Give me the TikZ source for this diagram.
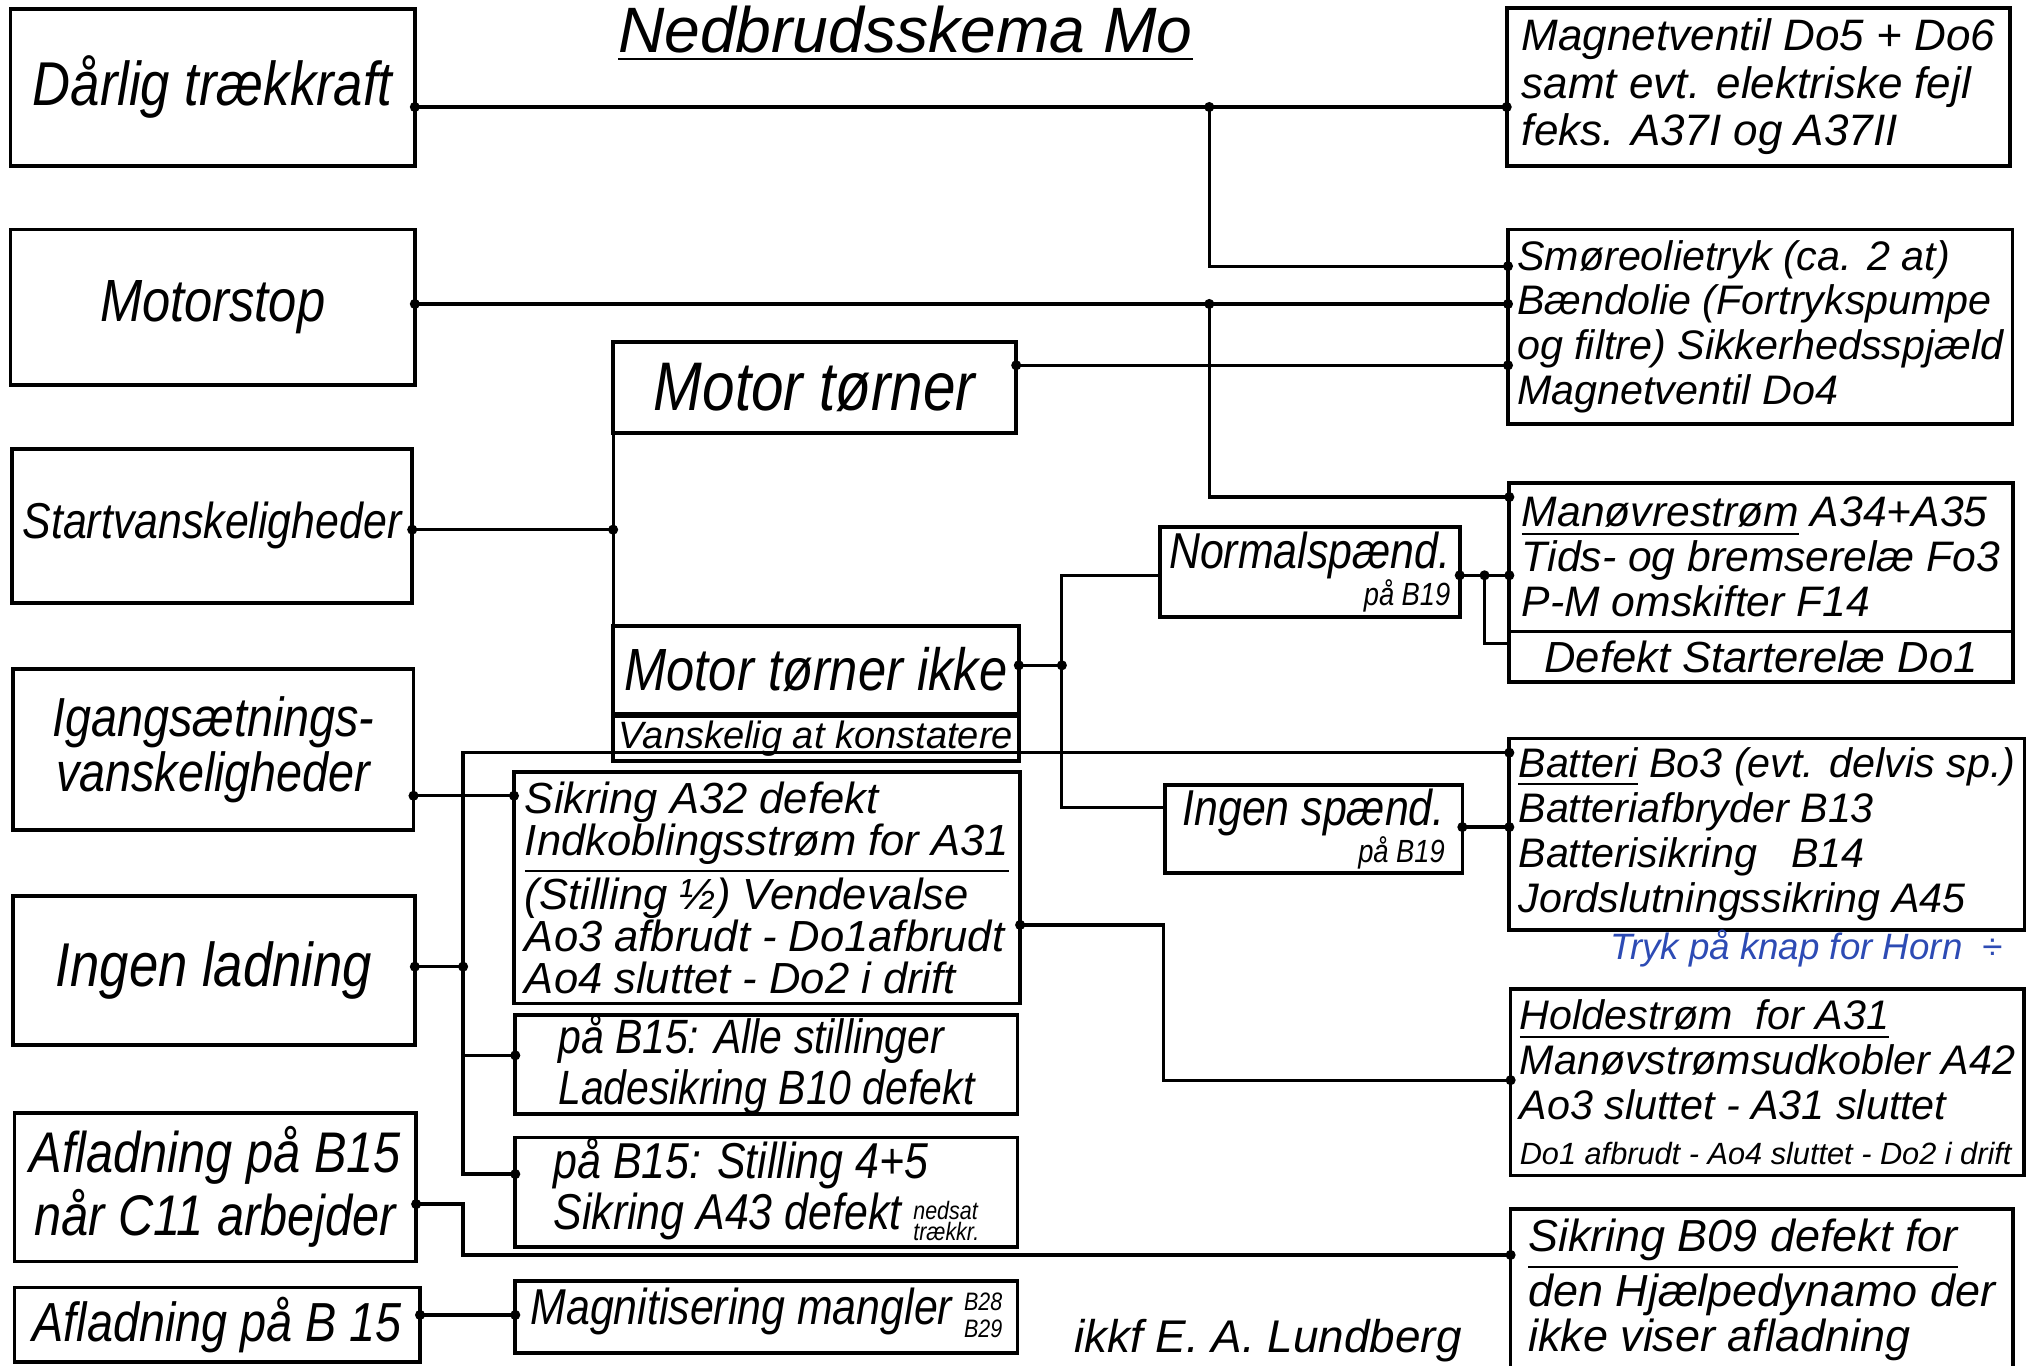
\documentclass[tikz,border=0pt]{standalone}
\usepackage{fontspec}
\setmainfont{Liberation Sans}
\newfontfamily\narrow{Liberation Sans}[FakeStretch=0.85]
\definecolor{pen}{RGB}{45,75,180}
\begin{document}
\begin{tikzpicture}[
		box/.style={draw, line width=0.8pt, anchor=north west, outer sep=0pt, inner sep=2pt, align=left},
		lbox/.style={box, align=center, font=\narrow\itshape\fontsize{#1}{#1}\selectfont}, lbox/.default=12,
		mbox/.style={box, inner ysep=0pt, font=\narrow\itshape\fontsize{#1}{10}\selectfont}, mbox/.default=11,
		rbox/.style={box, font=\itshape\fontsize{#1}{9.8}\selectfont}, rbox/.default=9.5,
		wire/.style={line width=0.7pt},
	]
	\useasboundingbox (0,0) rectangle (15.6,-10.47);
	\node[font=\itshape\fontsize{14}{14}\selectfont] (title) at (6.94,-0.26) {\underline{Nedbrudsskema Mo}};
	% venstre kolonne
	\node[lbox=13.5, minimum width=3.10cm, minimum height=1.20cm] (dar)   at (0.08,-0.07) {Dårlig trækkraft};
	\node[lbox=13,   minimum width=3.10cm, minimum height=1.19cm] (mot)   at (0.08,-1.76) {Motorstop};
	\node[lbox=11,   minimum width=3.07cm, minimum height=1.18cm] (start) at (0.09,-3.44) {Startvanskeligheder};
	\node[lbox,      minimum width=3.07cm, minimum height=1.23cm] (igang) at (0.10,-5.13) {Igangsætnings-\\vanskeligheder};
	\node[lbox=13.5, minimum width=3.08cm, minimum height=1.14cm] (ingen) at (0.10,-6.87) {Ingen ladning};
	\node[lbox=12.5, minimum width=3.08cm, minimum height=1.14cm] (afl1)  at (0.11,-8.53) {Afladning på B15\\når C11 arbejder};
	\node[lbox,      minimum width=3.11cm, minimum height=0.51cm] (afl2)  at (0.11,-9.87) {Afladning på B 15};
	% midten
	\node[lbox=15, minimum width=3.09cm, minimum height=0.70cm] (mtor) at (4.70,-2.62) {Motor tørner};
	\node[lbox=13, minimum width=3.11cm, minimum height=0.67cm] (mtik) at (4.70,-4.80) {Motor tørner ikke};
	\node[box, font=\itshape\fontsize{8.3}{8.3}\selectfont, inner sep=1pt, minimum width=3.11cm, minimum height=0.27cm] (vansk) at (4.70,-5.49) {Vanskelig at konstatere};
	\node[box, font=\itshape\fontsize{9.5}{9.2}\selectfont, minimum width=3.88cm, minimum height=1.65cm] (sik) at (3.94,-5.92)
		{Sikring A32 defekt\\\underline{Indkoblingsstrøm for A31}\\(Stilling ½) Vendevalse\\Ao3 afbrudt - Do1afbrudt\\Ao4 sluttet - Do2 i drift};
	\node[mbox, font=\narrow\itshape\fontsize{10.5}{11}\selectfont, minimum width=3.85cm, minimum height=0.75cm] (alle) at (3.95,-7.78) {på B15: Alle stillinger\\Ladesikring B10 defekt};
	\node[mbox, font=\narrow\itshape\fontsize{11}{9}\selectfont, minimum width=3.85cm, minimum height=0.66cm] (still) at (3.95,-8.72)
		{på B15: Stilling 4+5\\Sikring A43 defekt {\fontsize{5.5}{5}\selectfont\begin{tabular}{@{}l@{}}nedsat\\[-1pt]trækkr.\end{tabular}}};
	\node[mbox, minimum width=3.85cm, minimum height=0.55cm] (magn) at (3.95,-9.82)
		{Magnitisering mangler {\fontsize{5.5}{6}\selectfont\begin{tabular}{@{}l@{}}B28\\B29\end{tabular}}};
	\node[mbox, align=right, minimum width=2.30cm, minimum height=0.69cm] (norm) at (8.89,-4.04)
		{Normalspænd.\\[-2pt]{\fontsize{7}{7}\selectfont på B19}};
	\node[mbox, align=right, minimum width=2.28cm, minimum height=0.67cm] (ingsp) at (8.93,-6.02)
		{Ingen spænd.\\[-2pt]{\fontsize{7}{7}\selectfont på B19}};
	% hoejre kolonne
	\node[box, font=\itshape\fontsize{9.6}{10.3}\selectfont, minimum width=3.86cm, minimum height=1.21cm] (magv) at (11.55,-0.06)
		{Magnetventil Do5 + Do6\\samt evt. elektriske fejl\\feks. A37I og A37II};
	\node[rbox=9, minimum width=3.85cm, minimum height=1.49cm] (smore) at (11.56,-1.76)
		{Smøreolietryk (ca. 2 at)\\Bændolie (Fortrykspumpe\\og filtre) Sikkerhedsspjæld\\Magnetventil Do4};
	\node[rbox=9.3, minimum width=3.86cm, minimum height=1.14cm] (manv) at (11.57,-3.70)
		{\underline{Manøvrestrøm} A34+A35\\Tids- og bremserelæ Fo3\\P-M omskifter F14};
	\node[rbox=9.5, minimum width=3.86cm, minimum height=0.34cm] (defk) at (11.57,-4.84) {Defekt Starterelæ Do1};
	\node[rbox=9, minimum width=3.89cm, minimum height=1.43cm] (batt) at (11.57,-5.66)
		{\underline{Batteri} Bo3 (evt. delvis sp.)\\Batteriafbryder B13\\Batterisikring \ \ B14\\Jordslutningssikring A45};
	\node[font=\itshape\fontsize{8}{8}\selectfont, text=pen] (tryk) at (13.85,-7.27) {Tryk på knap for Horn \ ÷};
	\node[rbox=9, minimum width=3.85cm, minimum height=1.43cm] (hold) at (11.58,-7.58)
		{\underline{Holdestrøm \ for A31}\\Manøvstrømsudkobler A42\\Ao3 sluttet - A31 sluttet\\{\fontsize{6.7}{7}\selectfont Do1 afbrudt - Ao4 sluttet - Do2 i drift}};
	\node[rbox=9.8, minimum width=3.85cm, minimum height=1.02cm] (b09) at (11.58,-9.27)
		{\underline{Sikring B09 defekt for}\\den Hjælpedynamo der\\ikke viser afladning};
	\node[font=\itshape\fontsize{10}{10}\selectfont] (sign) at (9.72,-10.28) {ikkf E. A. Lundberg};
	% forbindelser
	\fill ( 3.18,-0.82) coordinate (dar-o) circle (1.1pt);
	\fill ( 9.27,-0.82) coordinate (j1) circle (1.1pt);
	\fill (11.55,-0.82) coordinate (magv-i) circle (1.1pt);
	\fill (11.56,-2.04) coordinate (smore-i1) circle (1.1pt);
	\draw[wire] (dar-o) -- (j1) -- (magv-i);
	\draw[wire] (j1) |- (smore-i1);
	\fill ( 3.18,-2.33) coordinate (mot-o) circle (1.1pt);
	\fill ( 9.27,-2.33) coordinate (j2) circle (1.1pt);
	\fill (11.56,-2.33) coordinate (smore-i2) circle (1.1pt);
	\fill (11.57,-3.81) coordinate (manv-i1) circle (1.1pt);
	\draw[wire] (mot-o) -- (j2) -- (smore-i2);
	\draw[wire] (j2) |- (manv-i1);
	\fill ( 7.79,-2.80) coordinate (mtor-o) circle (1.1pt);
	\fill (11.56,-2.80) coordinate (smore-i3) circle (1.1pt);
	\draw[wire] (mtor-o) -- (smore-i3);
	\fill ( 3.16,-4.06) coordinate (start-o) circle (1.1pt);
	\fill ( 4.70,-4.06) coordinate (j3) circle (1.1pt);
	\draw[wire] (start-o) -- (j3);
	\draw[wire] (mtor.south west) -- (mtik.north west);
	\fill ( 7.81,-5.10) coordinate (mtik-o) circle (1.1pt);
	\fill ( 8.14,-5.10) coordinate (j4) circle (1.1pt);
	\coordinate (norm-i) at (8.89,-4.41);
	\coordinate (ingsp-i) at (8.93,-6.19);
	\draw[wire] (mtik-o) -- (j4);
	\draw[wire] (norm-i) -| (j4) |- (ingsp-i);
	\fill (11.19,-4.41) coordinate (norm-o) circle (1.1pt);
	\fill (11.38,-4.41) coordinate (j5) circle (1.1pt);
	\fill (11.57,-4.41) coordinate (manv-i2) circle (1.1pt);
	\coordinate (defk-i) at (11.57,-4.93);
	\draw[wire] (norm-o) -- (j5) -- (manv-i2);
	\draw[wire] (j5) |- (defk-i);
	\fill (11.21,-6.34) coordinate (ingsp-o) circle (1.1pt);
	\fill (11.57,-6.34) coordinate (batt-i2) circle (1.1pt);
	\draw[wire] (ingsp-o) -- (batt-i2);
	\coordinate (j6) at (3.55,-5.77);
	\fill (11.57,-5.77) coordinate (batt-i1) circle (1.1pt);
	\fill ( 3.95,-9.00) coordinate (still-i) circle (1.1pt);
	\draw[wire] (batt-i1) -- (j6) |- (still-i);
	\fill ( 3.17,-6.10) coordinate (igang-o) circle (1.1pt);
	\fill ( 3.94,-6.10) coordinate (sik-i) circle (1.1pt);
	\draw[wire] (igang-o) -- (sik-i);
	\fill ( 3.18,-7.41) coordinate (ingen-o) circle (1.1pt);
	\fill ( 3.55,-7.41) coordinate (j7) circle (1.1pt);
	\draw[wire] (ingen-o) -- (j7);
	\coordinate (j8) at (3.55,-8.09);
	\fill ( 3.95,-8.09) coordinate (alle-i) circle (1.1pt);
	\draw[wire] (j8) -- (alle-i);
	\fill ( 3.19,-9.23) coordinate (afl1-o) circle (1.1pt);
	\coordinate (j9) at (3.55,-9.23);
	\fill (11.58,-9.62) coordinate (b09-i) circle (1.1pt);
	\draw[wire] (afl1-o) -- (j9) |- (b09-i);
	\fill ( 3.22,-10.08) coordinate (afl2-o) circle (1.1pt);
	\fill ( 3.95,-10.08) coordinate (magn-i) circle (1.1pt);
	\draw[wire] (afl2-o) -- (magn-i);
	\fill ( 7.82,-7.09) coordinate (sik-o) circle (1.1pt);
	\coordinate (j10) at (8.92,-7.09);
	\fill (11.58,-8.28) coordinate (hold-i) circle (1.1pt);
	\draw[wire] (sik-o) -- (j10) |- (hold-i);
\end{tikzpicture}
\end{document}
